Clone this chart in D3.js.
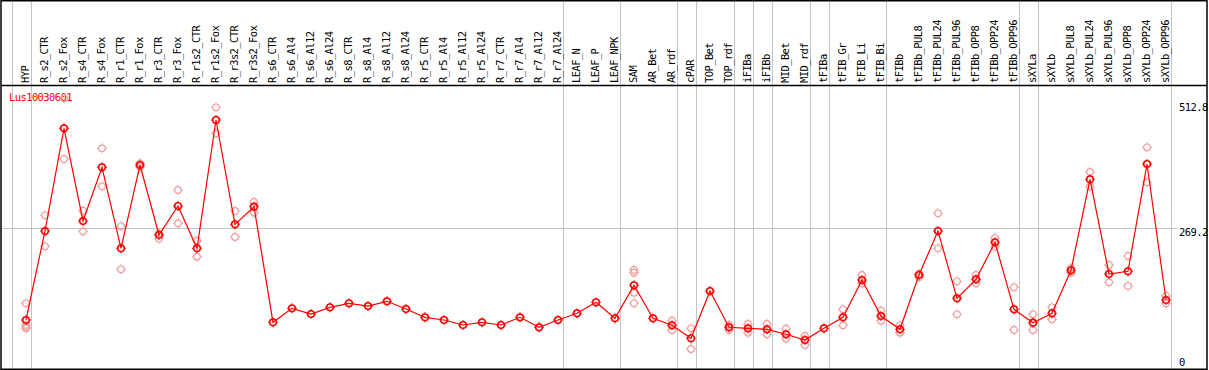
<!DOCTYPE html>
<html><head><meta charset="utf-8">
<script src="https://cdn.jsdelivr.net/npm/d3@7/dist/d3.min.js"></script>
<style>
html,body{margin:0;padding:0;background:#fff;}
text{font-family:"DejaVu Sans Mono",monospace;font-size:10.5px;letter-spacing:-0.6px;}
</style></head>
<body><svg id="c" width="1209" height="370"></svg>
<script>
const geneName = "Lus10030601";
const categories = ["HYP","R_s2_CTR","R_s2_Fox","R_s4_CTR","R_s4_Fox","R_r1_CTR","R_r1_Fox","R_r3_CTR","R_r3_Fox","R_r1s2_CTR","R_r1s2_Fox","R_r3s2_CTR","R_r3s2_Fox","R_s6_CTR","R_s6_Al4","R_s6_Al12","R_s6_Al24","R_s8_CTR","R_s8_Al4","R_s8_Al12","R_s8_Al24","R_r5_CTR","R_r5_Al4","R_r5_Al12","R_r5_Al24","R_r7_CTR","R_r7_Al4","R_r7_Al12","R_r7_Al24","LEAF_N","LEAF_P","LEAF_NPK","SAM","AR_Bet","AR_rdf","cPAR","TOP_Bet","TOP_rdf","iFIBa","iFIBb","MID_Bet","MID_rdf","tFIBa","tFIB_Gr","tFIB_Li","tFIB_Bi","tFIBb","tFIBb_PUL8","tFIBb_PUL24","tFIBb_PUL96","tFIBb_OPP8","tFIBb_OPP24","tFIBb_OPP96","sXYLa","sXYLb","sXYLb_PUL8","sXYLb_PUL24","sXYLb_PUL96","sXYLb_OPP8","sXYLb_OPP24","sXYLb_OPP96"];
const meanValues = [84.6,263.7,470.5,283.9,392.0,228.9,396.6,255.7,314.1,228.9,487.2,277.2,312.7,79.9,108.1,96.6,110.1,118.2,112.7,122.2,106.7,90.0,84.6,74.5,79.9,74.5,90.0,69.9,84.6,98.0,120.2,88.0,154.4,88.0,73.9,47.7,142.9,69.9,67.8,65.8,55.8,44.3,67.8,90.0,165.1,92.6,65.8,175.2,263.7,128.2,166.5,241.0,106.1,79.1,98.0,184.6,367.8,177.2,182.6,398.6,124.8];
const replicateValues = [[118.2,74.5,70.5,67.8],[295.4,232.9],[530.9,408.7],[304.6,263.1],[430.2,353.7],[273.2,186.6],[400.6,392.6],[259.1,248.2],[346.3,279.2],[244.2,212.0],[512.8,460.4],[304.0,251.7],[322.1,300.6],[],[],[],[],[],[],[],[],[],[],[],[],[],[],[],[],[],[],[],[185.2,179.8,139.5,118.2],[],[83.1,64.4],[67.8,26.2],[],[74.5,64.4],[76.5,59.0],[76.5,55.8],[67.0,46.9],[52.3,34.2],[],[106.1,73.9],[175.2,158.4],[103.3,83.1],[73.9,59.0],[177.2,170.5],[299.4,228.9],[162.5,96.0],[175.2,158.4],[249.6,232.1],[150.4,64.4],[96.0,64.4],[110.1,86.0],[189.2,179.8],[382.5,352.9],[195.3,160.5],[213.4,153.0],[432.3,361.8],[132.9,118.2]];
const yTickValues = [0, 269.2, 512.8];
const yTickLabels = ["0", "269.2", "512.8"];
const gridValue = 269.2;
const separatorAfter = [-1,0,28,31,34,35,37,38,39,41,42,45,52,53,60];

const svg = d3.select("#c");
const x = d3.scalePoint().domain(categories).range([26, 1166]);
const step = x.step();
const y = d3.scaleLinear().domain([0, 512.8]).range([362, 107.3]);
const xi = i => i < 0 ? x(categories[0]) - step : x(categories[i]);

// separators
svg.append("g").selectAll("line").data(separatorAfter).join("line")
  .attr("x1", d => Math.round(xi(d) + 4.5) + 0.5).attr("x2", d => Math.round(xi(d) + 4.5) + 0.5)
  .attr("y1", 0).attr("y2", 370).attr("stroke", "#c4c4c4").attr("stroke-width", 1);

// horizontal grid
svg.append("line").attr("x1", 1).attr("x2", 1177).attr("y1", Math.round(y(gridValue)) + 0.5).attr("y2", Math.round(y(gridValue)) + 0.5)
  .attr("stroke", "#c4c4c4").attr("stroke-width", 1);

// frame
svg.append("rect").attr("x", 1).attr("y", 0.75).attr("width", 1206).attr("height", 368.5)
  .attr("fill", "none").attr("stroke", "#000").attr("stroke-width", 1.5);
svg.append("line").attr("x1", 1).attr("x2", 1207).attr("y1", 85.5).attr("y2", 85.5).attr("stroke", "#000").attr("stroke-width", 1.3);

// header labels
svg.append("g").selectAll("text").data(categories).join("text")
  .attr("transform", d => `translate(${x(d) + 3},83) rotate(-90)`)
  .attr("fill", "#000").text(d => d);

// y labels
svg.append("g").selectAll("text").data(yTickValues).join("text")
  .attr("x", 1179)
  .attr("y", (d, i) => d === gridValue ? y(d) + 4 : y(d))
  .attr("dominant-baseline", "central")
  .attr("fill", "#000").text((d, i) => yTickLabels[i]);

// title
svg.append("text").attr("x", 9).attr("y", 101).attr("fill", "#ff0000").text(geneName);

function marker(g, color, sw) {
  g.append("circle").attr("r", 3.3).attr("fill", "none").attr("stroke", color).attr("stroke-width", sw);
  const t = [[0,-3.3,0,-5],[0,3.3,0,5],[-3.3,0,-5,0],[3.3,0,5,0]];
  t.forEach(s => g.append("line").attr("x1", s[0]).attr("y1", s[1]).attr("x2", s[2]).attr("y2", s[3]).attr("stroke", color).attr("stroke-width", 1));
}

// replicates
const reps = [];
replicateValues.forEach((arr, i) => arr.forEach(v => reps.push({c: categories[i], v})));
svg.append("g").selectAll("g").data(reps).join("g")
  .attr("transform", d => `translate(${x(d.c)},${y(d.v)})`)
  .each(function(){ marker(d3.select(this), "#f0a0a0", 1.2); });

// mean line
const line = d3.line().x((d, i) => x(categories[i])).y(d => y(d));
svg.append("path").datum(meanValues).attr("d", line).attr("fill", "none").attr("stroke", "#ff0000").attr("stroke-width", 1.2);

svg.append("g").selectAll("g").data(meanValues).join("g")
  .attr("transform", (d, i) => `translate(${x(categories[i])},${y(d)})`)
  .each(function(){ marker(d3.select(this), "#ff0000", 1.6); });
</script></body></html>
